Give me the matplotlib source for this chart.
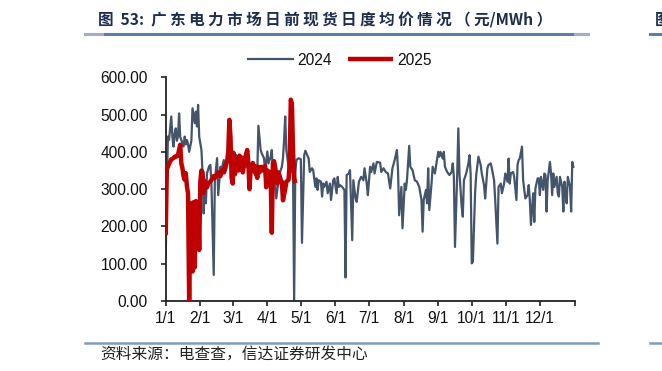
import matplotlib
matplotlib.use('Agg')
import matplotlib.pyplot as plt
from matplotlib.lines import Line2D

# ---- data (day index from 1/1, value in 元/MWh) ----
days_2024 = [0, 1, 2, 3, 5, 6, 7, 8, 9, 10, 11, 12, 13, 14, 16, 17, 18, 19, 20, 21,
             23, 24, 26, 27, 28, 29, 30, 32, 33, 34, 35, 36, 37, 39, 40, 41, 43, 44, 46, 47,
             49, 50, 52, 53, 55, 56, 58, 59, 61, 62, 63, 65, 67, 69, 72, 75, 77, 79, 81, 82,
             83, 85, 86, 88, 89, 91, 92, 94, 95, 96, 98, 99, 101, 102, 104, 105, 106, 107, 108, 110,
             111, 113, 114, 115, 116, 117, 119, 121, 122, 124, 125, 128, 129, 131, 132, 134, 135, 136, 137, 139,
             140, 141, 142, 144, 145, 147, 148, 150, 151, 153, 154, 155, 156, 158, 160, 161, 162, 164, 165, 167,
             168, 170, 171, 173, 175, 177, 178, 180, 181, 183, 184, 186, 187, 189, 192, 193, 195, 197, 199, 201,
             203, 205, 207, 208, 209, 211, 212, 214, 215, 216, 218, 219, 221, 223, 225, 227, 229, 230, 231, 233,
             234, 235, 236, 238, 239, 241, 242, 244, 245, 246, 248, 249, 250, 252, 254, 256, 257, 258, 259, 261,
             262, 263, 265, 266, 267, 269, 271, 272, 273, 274, 275, 277, 278, 280, 282, 283, 285, 286, 288, 289,
             291, 292, 294, 295, 297, 298, 300, 301, 303, 304, 306, 307, 308, 309, 311, 312, 314, 315, 316, 317,
             319, 320, 322, 324, 325, 326, 327, 329, 330, 331, 333, 334, 335, 336, 338, 339, 340, 341, 342, 344,
             345, 346, 347, 348, 350, 351, 352, 353, 355, 356, 357, 358, 359, 360, 362, 363, 364, 365]
vals_2024 = [115, 300, 441, 432, 495, 440, 414, 450, 463, 430, 441, 503, 440, 432, 414, 441, 420, 432, 420, 400,
             430, 517, 477, 508, 468, 526, 441, 405, 343, 235, 325, 262, 343, 362, 365, 307, 70, 325, 383, 284,
             360, 352, 378, 343, 360, 392, 378, 396, 401, 369, 392, 378, 387, 374, 360, 369, 352, 343, 334, 347,
             470, 405, 396, 383, 347, 401, 369, 387, 405, 343, 307, 275, 325, 343, 360, 383, 432, 495, 405, 360,
             343, 352, 343, 0, 343, 378, 383, 380, 156, 391, 403, 382, 346, 356, 351, 306, 329, 298, 324, 320,
             280, 315, 306, 320, 289, 315, 271, 324, 329, 289, 333, 306, 311, 306, 298, 63, 338, 342, 351, 163,
             324, 275, 266, 320, 333, 324, 356, 315, 284, 360, 346, 369, 342, 373, 371, 346, 356, 346, 342, 302,
             356, 378, 405, 351, 230, 306, 195, 315, 298, 324, 416, 360, 351, 324, 320, 306, 271, 186, 271, 298,
             262, 356, 244, 315, 360, 342, 362, 400, 387, 400, 382, 400, 360, 346, 338, 346, 369, 333, 145, 342,
             463, 342, 253, 226, 324, 342, 369, 391, 342, 101, 105, 289, 338, 387, 365, 342, 311, 275, 356, 365,
             369, 356, 324, 271, 154, 306, 315, 289, 315, 342, 320, 382, 315, 342, 346, 333, 271, 365, 378, 382,
             414, 324, 275, 284, 311, 271, 204, 289, 212, 302, 329, 329, 284, 333, 298, 342, 338, 240, 324, 373,
             342, 284, 342, 306, 333, 289, 280, 333, 306, 240, 320, 289, 262, 333, 306, 240, 373, 360]

days_2025 = [0, 1, 2, 4, 5, 7, 8, 10, 11, 13, 14, 15, 16, 17, 18, 19, 20, 21, 22, 23,
             24, 25, 26, 27, 29, 30, 31, 32, 33, 34, 35, 37, 38, 40, 41, 43, 44, 46, 47, 49,
             50, 52, 53, 55, 56, 57, 58, 59, 60, 61, 62, 63, 65, 66, 67, 68, 69, 71, 72, 73,
             74, 75, 76, 78, 79, 80, 82, 83, 84, 86, 87, 89, 90, 91, 93, 94, 95, 96, 97, 99,
             100, 101, 103, 104, 105, 107, 108, 110, 111, 112, 113, 114, 115, 116]
vals_2025 = [177, 352, 361, 374, 380, 383, 387, 388, 392, 419, 369, 356, 334, 325, 343, 307, 289, 0, 262, 150,
             79, 265, 90, 268, 250, 137, 320, 350, 345, 290, 320, 305, 315, 320, 325, 335, 330, 340, 345, 335,
             350, 345, 360, 375, 400, 486, 440, 330, 315, 396, 340, 380, 350, 390, 355, 385, 345, 380, 395, 405,
             370, 300, 350, 370, 350, 362, 330, 360, 345, 360, 350, 362, 305, 350, 345, 330, 183, 370, 375, 340,
             315, 345, 325, 320, 270, 300, 320, 325, 370, 540, 530, 400, 330, 316]

x_ticks = [0, 31, 60, 91, 121, 152, 182, 213, 244, 274, 305, 335, 366]
x_labels = ['1/1', '2/1', '3/1', '4/1', '5/1', '6/1', '7/1', '8/1', '9/1', '10/1', '11/1', '12/1', '']
y_ticks = [0, 100, 200, 300, 400, 500, 600]

title = '图  53:  广 东 电 力 市 场 日 前 现 货 日 度 均 价 情 况 （ 元/MWh ）'
source = '资料来源：电查查，信达证券研发中心'

# ---- figure ----
W, H = 662, 371
fig = plt.figure(figsize=(W / 100, H / 100), dpi=100)
fig.patch.set_facecolor('white')

left, right, bottom, top = 165.7, 574.5, 301, 77.3
ax = fig.add_axes([left / W, 1 - bottom / H, (right - left) / W, (bottom - top) / H])

ax.plot(days_2024, vals_2024, color='#44546A', lw=1.6, label='2024', zorder=2)
ax.plot(days_2025, vals_2025, color='#C00000', lw=3.2, label='2025', zorder=3,
        solid_joinstyle='round', solid_capstyle='butt')

ax.set_xlim(0, 366)
ax.set_ylim(0, 600)
ax.set_xticks(x_ticks)
ax.set_xticklabels(x_labels)
ax.set_yticks(y_ticks)
ax.set_yticklabels([f'{v:.2f}' for v in y_ticks])

for s in ['top', 'right']:
    ax.spines[s].set_visible(False)
for s in ['left', 'bottom']:
    ax.spines[s].set_color('#222222')
    ax.spines[s].set_linewidth(1.3)

ax.tick_params(axis='both', direction='out', length=3.4, width=1.2, color='#222222',
               labelsize=11.2, labelcolor='#111111')
ax.tick_params(axis='x', pad=4)
ax.tick_params(axis='y', pad=9.5)
for lab in ax.get_xticklabels() + ax.get_yticklabels():
    lab.set_family(['Liberation Sans', 'DejaVu Sans'])

leg = ax.legend(loc='center', bbox_to_anchor=((340 - left) / (right - left), (bottom - 60) / (bottom - top)),
                ncol=2, frameon=False, fontsize=11.2, handlelength=2.9, columnspacing=1.0,
                handletextpad=0.3, borderaxespad=0)
for t in leg.get_texts():
    t.set_family(['Liberation Sans', 'DejaVu Sans'])
    t.set_color('#111111')

# ---- title, rules and source ----
fig.text(98 / W, 1 - 20 / H, title, fontsize=11.2, fontweight='bold', color='#1F2D4D',
         family=['Noto Sans CJK SC', 'DejaVu Sans'], va='center', ha='left')
fig.add_artist(Line2D([85 / W, 105 / W], [1 - 34 / H] * 2, color='#9DB0C8', lw=2.2))
fig.add_artist(Line2D([105 / W, 575 / W], [1 - 34 / H] * 2, color='#5E7DAA', lw=2.2))
fig.add_artist(Line2D([575 / W, 588 / W], [1 - 34 / H] * 2, color='#9DB0C8', lw=2.2))

fig.add_artist(Line2D([85 / W, 598 / W], [1 - 343 / H] * 2, color='#7F9BC0', lw=1.8))
fig.text(100 / W, 1 - 354 / H, source, fontsize=11.3, color='#222222', style='italic',
         family=['Noto Sans CJK SC', 'DejaVu Sans'], va='center', ha='left')

# partial next panel at the right edge
fig.text(655 / W, 1 - 20 / H, '图', fontsize=11.2, fontweight='bold', color='#1F2D4D',
         family=['Noto Sans CJK SC', 'DejaVu Sans'], va='center', ha='left')
fig.add_artist(Line2D([650 / W, 1.0], [1 - 34 / H] * 2, color='#5E7DAA', lw=2.2))
fig.add_artist(Line2D([650 / W, 1.0], [1 - 343 / H] * 2, color='#7F9BC0', lw=1.8))

fig.savefig('out.png', dpi=100, facecolor='white')
